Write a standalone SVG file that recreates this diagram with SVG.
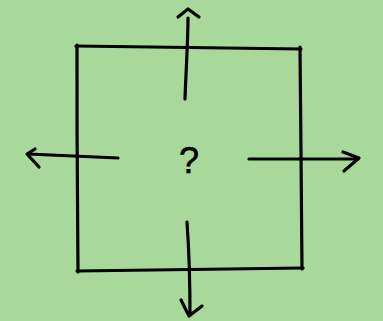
<svg xmlns="http://www.w3.org/2000/svg" width="383" height="321" viewBox="0 0 383 321">
<style>
.s{fill:none;stroke:#000;stroke-width:3.2;stroke-linecap:round;stroke-linejoin:round}
.t{font-family:"Liberation Sans",Arial,sans-serif;font-size:36px;fill:#000;stroke:#000;stroke-width:0.6;text-anchor:middle}
</style>
<rect width="383" height="321" fill="#a9d89b"/>
<g id="box">
<path class="s" d="M76,46 L301,49"/>
<path class="s" d="M300,47 C301,120 301,200 302,269"/>
<path class="s" d="M303,268 L77,271"/>
<path class="s" d="M78,272 C77,200 77,120 77,45"/>
</g>
<g id="question">
<text class="t" x="189" y="173">?</text>
</g>
<g id="connectors">
<g id="arrow-up">
<path class="s" d="M185,99 C186,70 188,40 188,18"/>
<path class="s" d="M178,17 L188,9 L199,17"/>
</g>
<g id="arrow-left">
<path class="s" d="M118,158 L28,154"/>
<path class="s" d="M35,149 L27,154 L39,167"/>
</g>
<g id="arrow-right">
<path class="s" d="M249,159 L358,159"/>
<path class="s" d="M343,152 L359,158 L344,171"/>
</g>
<g id="arrow-down">
<path class="s" d="M187,222 C189,250 190,290 190,315"/>
<path class="s" d="M181,300 L189,316 L202,306"/>
</g>
</g>
</svg>
